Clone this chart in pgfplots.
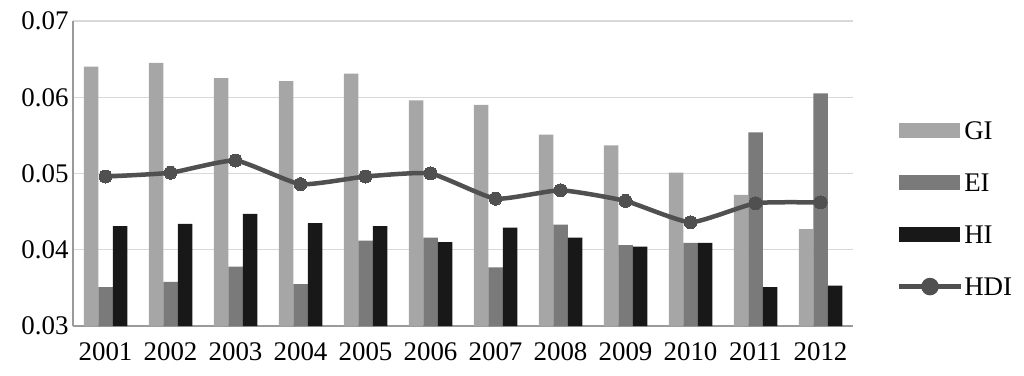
\documentclass[border=0pt]{standalone}
\usepackage{fontspec}
\setmainfont{Liberation Serif}
\usepackage{pgfplots}
\pgfplotsset{compat=1.18}
\definecolor{giC}{HTML}{A6A6A6}
\definecolor{eiC}{HTML}{7A7A7A}
\definecolor{hiC}{HTML}{181818}
\definecolor{hdiC}{HTML}{505050}
\definecolor{gridC}{HTML}{D9D9D9}
\definecolor{axC}{HTML}{9A9A9A}
\begin{document}
\begin{tikzpicture}
\useasboundingbox (-73bp,-50bp) rectangle (951bp,326bp);
\begin{axis}[
  scale only axis, width=780bp, height=305bp,
  xmin=-0.5, xmax=11.5, ymin=0.03, ymax=0.07,
  axis x line=bottom, axis y line=left,
  axis line style={draw=axC, line width=1.2bp, -},
  xtick={0,...,11},
  xticklabels={2001,2002,2003,2004,2005,2006,2007,2008,2009,2010,2011,2012},
  ytick={0.03,0.04,0.05,0.06,0.07},
  scaled y ticks=false,
  /pgf/number format/fixed, /pgf/number format/fixed zerofill,
  /pgf/number format/precision=2, /pgf/number format/assume math mode=true,
  major tick length=0pt,
  ymajorgrids, grid style={draw=gridC, line width=1.4bp},
  tick label style={font=\fontsize{27}{30}\selectfont, text=black},
  xticklabel style={yshift=-13bp},
  yticklabel style={xshift=-1bp},
  legend style={at={(1.052,0.385)}, anchor=west, draw=none, fill=none,
    font=\fontsize{27}{30}\selectfont, row sep=34bp,
    nodes={inner xsep=1bp, inner ysep=0bp, text height=18bp, text depth=0bp}},
  legend cell align=left,
  clip=false,
]
\addplot[ybar, bar width=14.5bp, bar shift=-14.5bp, fill=giC, draw=none,
  legend image code/.code={\fill[giC] (0bp,-7.5bp) rectangle (61bp,7.5bp);}]
  coordinates {(0,0.0640)(1,0.0645)(2,0.0625)(3,0.0621)(4,0.0631)(5,0.0596)(6,0.0590)(7,0.0551)(8,0.0537)(9,0.0501)(10,0.0472)(11,0.0427)};
\addlegendentry{GI}
\addplot[ybar, bar width=14.5bp, bar shift=0bp, fill=eiC, draw=none,
  legend image code/.code={\fill[eiC] (0bp,-7.5bp) rectangle (61bp,7.5bp);}]
  coordinates {(0,0.0351)(1,0.0358)(2,0.0378)(3,0.0355)(4,0.0412)(5,0.0416)(6,0.0377)(7,0.0433)(8,0.0406)(9,0.0409)(10,0.0554)(11,0.0605)};
\addlegendentry{EI}
\addplot[ybar, bar width=14.5bp, bar shift=14.5bp, fill=hiC, draw=none,
  legend image code/.code={\fill[hiC] (0bp,-7.5bp) rectangle (61bp,7.5bp);}]
  coordinates {(0,0.0431)(1,0.0434)(2,0.0447)(3,0.0435)(4,0.0431)(5,0.0410)(6,0.0429)(7,0.0416)(8,0.0404)(9,0.0409)(10,0.0351)(11,0.0353)};
\addlegendentry{HI}
\addplot[draw=hdiC, line width=4.5bp, smooth, tension=0.3, mark=*, mark size=6.5bp,
  mark options={fill=hdiC, draw=hdiC, line width=0bp},
  legend image code/.code={\draw[hdiC, line width=4.5bp] (0bp,0bp) -- (62bp,0bp); \fill[hdiC] (31bp,0bp) circle (6.5bp);}]
  coordinates {(0,0.0496)(1,0.0501)(2,0.0517)(3,0.0486)(4,0.0496)(5,0.0500)(6,0.0467)(7,0.0478)(8,0.0464)(9,0.0436)(10,0.0461)(11,0.0462)};
\addlegendentry{HDI}
\end{axis}
\end{tikzpicture}
\end{document}
